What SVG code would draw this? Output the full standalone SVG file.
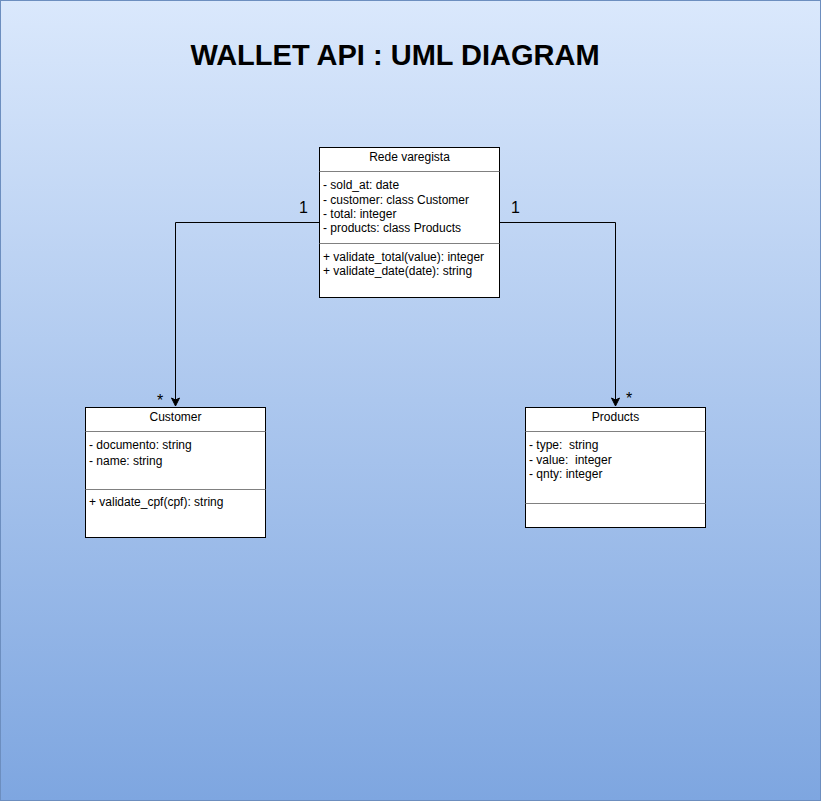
<svg xmlns="http://www.w3.org/2000/svg" width="821" height="801" viewBox="0 0 821 801">
<defs>
<linearGradient id="bg" x1="0" y1="0" x2="0" y2="1">
<stop offset="0" stop-color="#dae8fc"/>
<stop offset="1" stop-color="#7ea6e0"/>
</linearGradient>
<marker id="arr" markerWidth="10" markerHeight="10" refX="9" refY="5" orient="auto" markerUnits="userSpaceOnUse">
<path d="M1,1 L9,5 L1,9 L3,5 Z" fill="#000" stroke="#000" stroke-width="1"/>
</marker>
<style>
.box{fill:#fff;stroke:#000;stroke-width:1}
.sep{stroke:#808080;stroke-width:1}
.t{font-family:"Liberation Sans",Arial,sans-serif;font-size:12px;fill:#000}
.c{text-anchor:middle}
.lbl{font-family:"Liberation Sans",Arial,sans-serif;font-size:16px;fill:#000}
.edge{fill:none;stroke:#000;stroke-width:1}
</style>
</defs>
<rect x="0.5" y="0.5" width="820" height="800" fill="url(#bg)" stroke="#6c8ebf"/>
<text x="395" y="65" text-anchor="middle" font-family="'Liberation Sans',Arial,sans-serif" font-size="29" font-weight="bold" fill="#000">WALLET API : UML DIAGRAM</text>

<g id="edges">
<path class="edge" d="M319.5,222.5 H175.5 V406" marker-end="url(#arr)"/>
<path class="edge" d="M499.5,222.5 H615.5 V406" marker-end="url(#arr)"/>
<text class="lbl" x="299" y="213">1</text>
<text class="lbl" x="511" y="213">1</text>
<text class="lbl" x="157" y="406">*</text>
<text class="lbl" x="626" y="404">*</text>
</g>

<g id="rede">
<rect class="box" x="319.5" y="147.5" width="180" height="150"/>
<line class="sep" x1="319.5" y1="171.5" x2="499.5" y2="171.5"/>
<line class="sep" x1="319.5" y1="243.5" x2="499.5" y2="243.5"/>
<text class="t c" x="409.5" y="161">Rede varegista</text>
<text class="t" x="323" y="189">- sold_at: date</text>
<text class="t" x="323" y="203.5">- customer: class Customer</text>
<text class="t" x="323" y="218">- total: integer</text>
<text class="t" x="323" y="232">- products: class Products</text>
<text class="t" x="323" y="261">+ validate_total(value): integer</text>
<text class="t" x="323" y="275">+ validate_date(date): string</text>
</g>

<g id="customer">
<rect class="box" x="85.5" y="407.5" width="180" height="130"/>
<line class="sep" x1="85.5" y1="431.5" x2="265.5" y2="431.5"/>
<line class="sep" x1="85.5" y1="489.5" x2="265.5" y2="489.5"/>
<text class="t c" x="175.5" y="421">Customer</text>
<text class="t" x="89" y="448.5">- documento: string</text>
<text class="t" x="89" y="464.5">- name: string</text>
<text class="t" x="89" y="506">+ validate_cpf(cpf): string</text>
</g>

<g id="products">
<rect class="box" x="525.5" y="407.5" width="180" height="120"/>
<line class="sep" x1="525.5" y1="431.5" x2="705.5" y2="431.5"/>
<line class="sep" x1="525.5" y1="503.5" x2="705.5" y2="503.5"/>
<text class="t c" x="615.5" y="421">Products</text>
<text class="t" x="529" y="448.5" xml:space="preserve">- type:  string</text>
<text class="t" x="529" y="463.5" xml:space="preserve">- value:  integer</text>
<text class="t" x="529" y="478">- qnty: integer</text>
</g>
</svg>
